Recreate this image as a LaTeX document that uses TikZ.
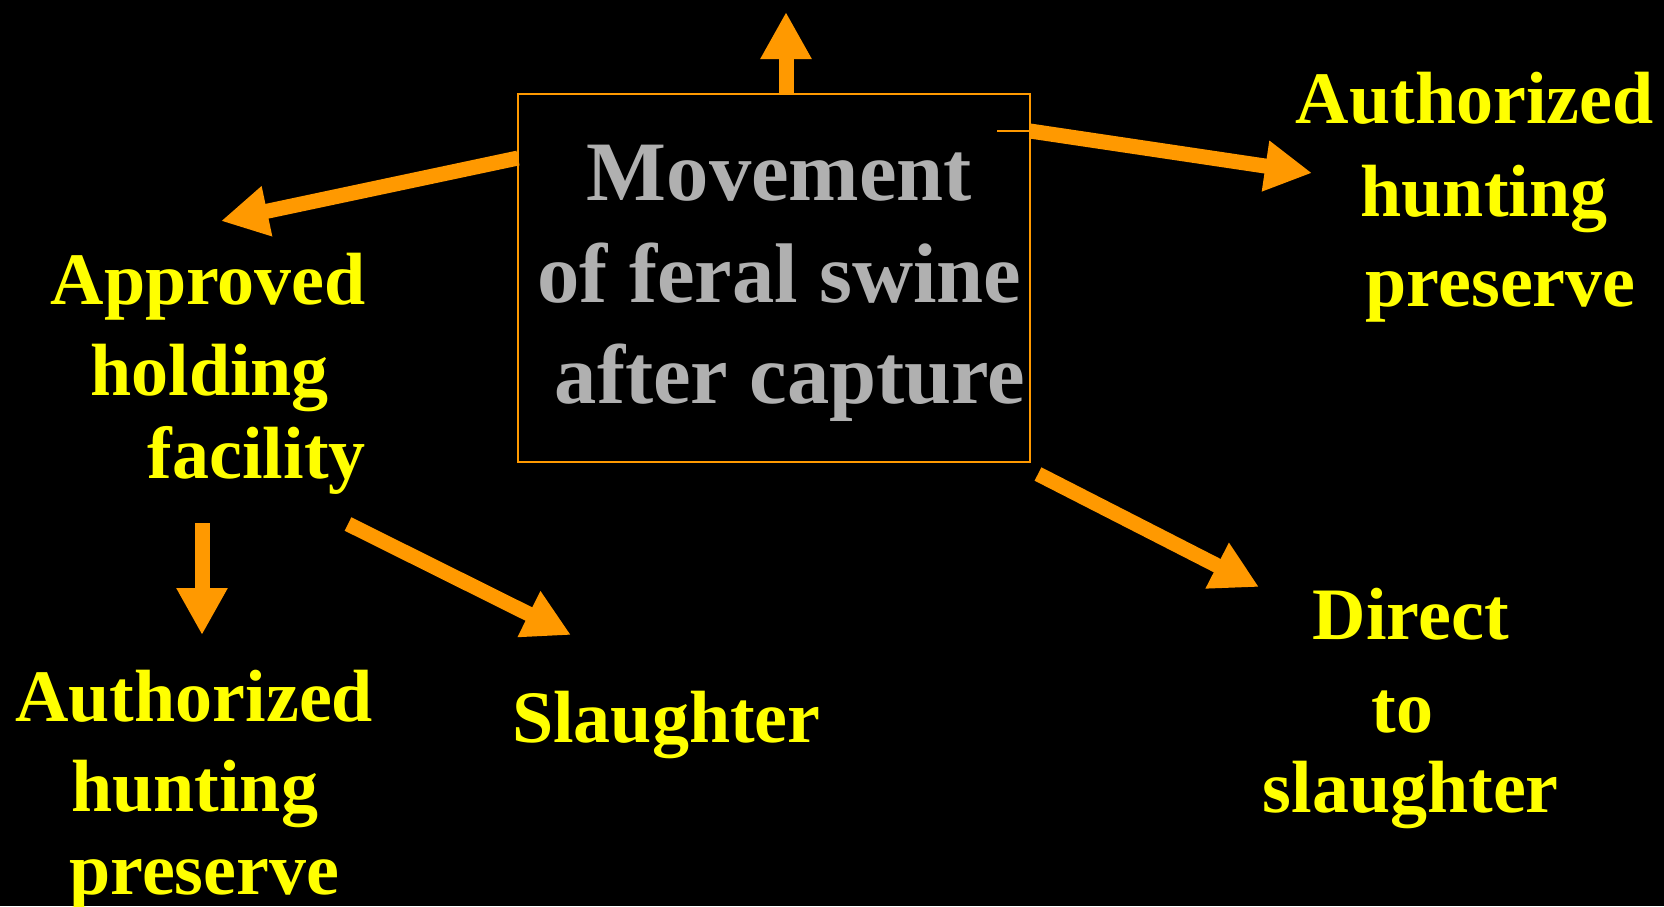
\documentclass[tikz,border=0pt]{standalone}
\usepackage{fontspec}
\setmainfont{Liberation Serif}
\usetikzlibrary{arrows.meta}
\definecolor{arrorange}{HTML}{FF9900}
\definecolor{labyellow}{HTML}{FFFF00}
\definecolor{boxgray}{HTML}{B0B0B0}
\begin{document}
\begin{tikzpicture}[x=0.5pt,y=-0.5pt,
  lab/.style={text=labyellow, font=\fontsize{37}{44}\selectfont\bfseries, anchor=base, inner sep=0pt},
  boxtxt/.style={text=boxgray, font=\fontsize{42.3}{50}\selectfont\bfseries, anchor=base, inner sep=0pt},
  flow/.style={draw=arrorange, line width=7.5pt, -{Triangle[length=23.5pt,width=24pt]}}]
\fill[black] (0,0) rectangle (1664,906);
\useasboundingbox (0,0) rectangle (1664,906);

% central box
\node[draw=arrorange, line width=1pt, minimum width=256pt, minimum height=184pt, inner sep=0pt] (box) at (774,277.5) {};
\node[boxtxt] (m1) at (779.5,200) {Movement};
\node[boxtxt] (m2) at (779.5,302) {of feral swine};
\node[boxtxt] (m3) at (790,403) {after capture};

% labels
\node[lab] (hp1) at (1474.8,123.3) {Authorized};
\node[lab] (hp2) at (1484,216.7) {hunting};
\node[lab] (hp3) at (1500.7,306) {preserve};

\node[lab] (ah1) at (208.3,304) {Approved};
\node[lab] (ah2) at (209.7,395) {holding};
\node[lab] (ah3) at (256.7,478.3) {facility};

\node[lab] (bh1) at (194.2,721.6) {Authorized};
\node[lab] (bh2) at (194.7,811.8) {hunting};
\node[lab] (bh3) at (204.3,894.6) {preserve};

\node[lab] (sl) at (666.4,742.8) {Slaughter};

\node[lab] (ds1) at (1410.8,639.9) {Direct};
\node[lab] (ds2) at (1402.4,732.2) {to};
\node[lab] (ds3) at (1410.8,812.9) {slaughter};

% connector end points
\coordinate (topS) at (786,93);
\coordinate (topE) at (786,12);
\coordinate (leftS) at (518,158);
\coordinate (leftE) at (221,221);
\coordinate (rightS) at (1030,131);
\coordinate (rightE) at (1312,173);
\coordinate (drS) at (1038,474);
\coordinate (drE) at (1259,587);
\coordinate (slS) at (348,524);
\coordinate (slE) at (571,635);
\coordinate (dnS) at (202,523);
\coordinate (dnE) at (202,635);
\coordinate (tick) at (997,131);

\draw[flow] (topS) -- (topE);
\draw[flow] (leftS) -- (leftE);
\draw[flow] (rightS) -- (rightE);
\draw[flow] (drS) -- (drE);
\draw[flow] (slS) -- (slE);
\draw[flow] (dnS) -- (dnE);
\draw[arrorange, line width=0.75pt] (tick) -- (rightS);
\end{tikzpicture}
\end{document}
